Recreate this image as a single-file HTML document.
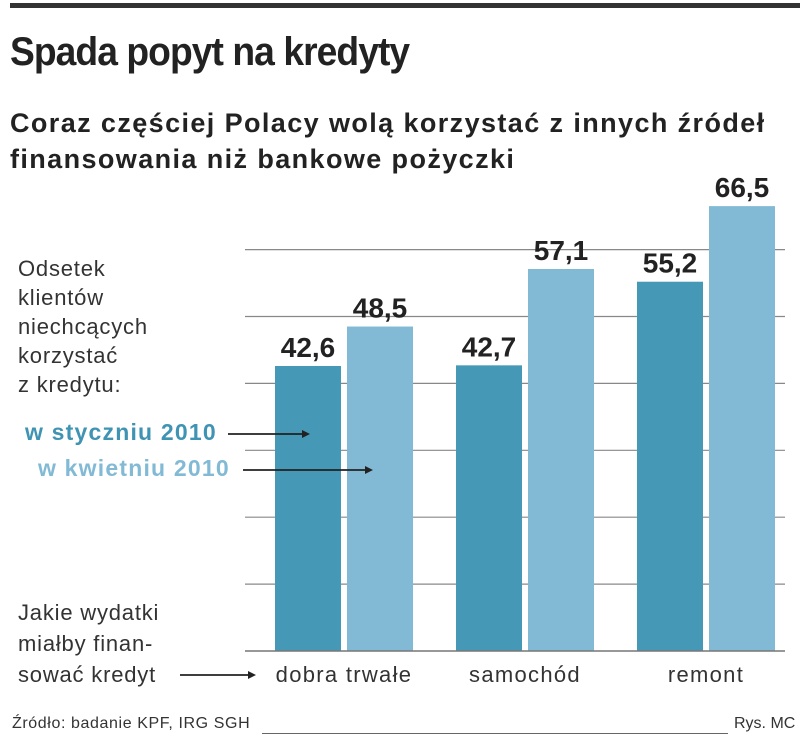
<!DOCTYPE html>
<html><head><meta charset="utf-8"><style>
body{margin:0;width:805px;height:749px;background:#fff;font-family:"Liberation Sans",sans-serif;color:#222;overflow:hidden;position:relative}
.a{position:absolute;white-space:nowrap}
</style></head><body>
<div class="a" style="left:10px;top:3px;width:790px;height:5px;background:#333"></div>
<div class="a" style="left:10px;top:30px;font-size:40px;font-weight:bold;letter-spacing:-1px;transform:scaleX(0.93);transform-origin:left">Spada popyt na kredyty</div>
<div class="a" style="left:10px;top:105px;font-size:27px;font-weight:bold;line-height:36px;letter-spacing:1.4px">Coraz częściej Polacy wolą korzystać z innych źródeł<br>finansowania niż bankowe pożyczki</div>
<div class="a" style="left:18px;top:254px;font-size:22px;line-height:29px;color:#333;letter-spacing:0.8px">Odsetek<br>klientów<br>niechcących<br>korzystać<br>z kredytu:</div>
<div class="a" style="left:25px;top:419px;font-size:23px;font-weight:bold;color:#3f93b3;letter-spacing:1.2px">w styczniu 2010</div>
<div class="a" style="left:38px;top:455px;font-size:23px;font-weight:bold;color:#82bad6;letter-spacing:1.2px">w kwietniu 2010</div>
<div class="a" style="left:18px;top:597px;font-size:22px;line-height:31px;color:#333;letter-spacing:0.8px">Jakie wydatki<br>miałby finan-<br>sować kredyt</div>
<svg class="a" style="left:0;top:0" width="805" height="749" id="chart"></svg>
<div class="a" style="left:12px;top:715px;font-size:16px;color:#333;letter-spacing:0.6px">Źródło: badanie KPF, IRG SGH</div>
<div class="a" style="left:262px;top:733px;width:466px;height:1px;background:#666"></div>
<div class="a" style="left:734px;top:715px;font-size:16px;color:#333">Rys. MC</div>
<script>
const categories=["dobra trwałe","samochód","remont"];
const janValues=[42.6,42.7,55.2];
const aprValues=[48.5,57.1,66.5];
const gridTicks=[10,20,30,40,50,60];
const svg=document.getElementById('chart');
const NS='http://www.w3.org/2000/svg';
const baseY=651, pxPerUnit=6.69;
const y=v=>baseY-v*pxPerUnit;
const groupX=i=>275+i*181;
function mk(t,attrs){const e=document.createElementNS(NS,t);for(const k in attrs)e.setAttribute(k,attrs[k]);svg.appendChild(e);return e;}
gridTicks.forEach(t=>{
 const l=mk('line',{x1:245,x2:785,y1:y(t),y2:y(t),stroke:'#888','stroke-width':1.2});
 
 
});
categories.forEach((c,i)=>{
 const x0=groupX(i);
 [[janValues[i],'#4599b6',x0],[aprValues[i],'#82bad6',x0+72]].forEach(([v,col,x],j)=>{
  const r=mk('rect',{x:x,y:y(v),width:66,height:baseY-y(v),fill:col});
  
  
  const t=mk('text',{x:x+33,y:y(v)-9,'text-anchor':'middle','font-size':28,'font-weight':'bold',fill:'#222','font-family':'Liberation Sans'});
  t.textContent=String(v).replace('.',',');
  
  
 });
 const lb=mk('text',{x:x0+69,y:682,'text-anchor':'middle','font-size':22,fill:'#333','font-family':'Liberation Sans','letter-spacing':1.3});
 lb.textContent=c;
 
 
});
const base=mk('line',{x1:245,x2:785,y1:baseY,y2:baseY,stroke:'#777','stroke-width':1.5});


[[228,310,434],[243,373,470],[180,256,675]].forEach(([x1,x2,yy])=>{
 const l=mk('line',{x1:x1,x2:x2-6,y1:yy,y2:yy,stroke:'#222','stroke-width':1.8});
 
 
 const p=mk('polygon',{points:`${x2},${yy} ${x2-8},${yy-4} ${x2-8},${yy+4}`,fill:'#222'});
 
 
});
</script>
</body></html>
